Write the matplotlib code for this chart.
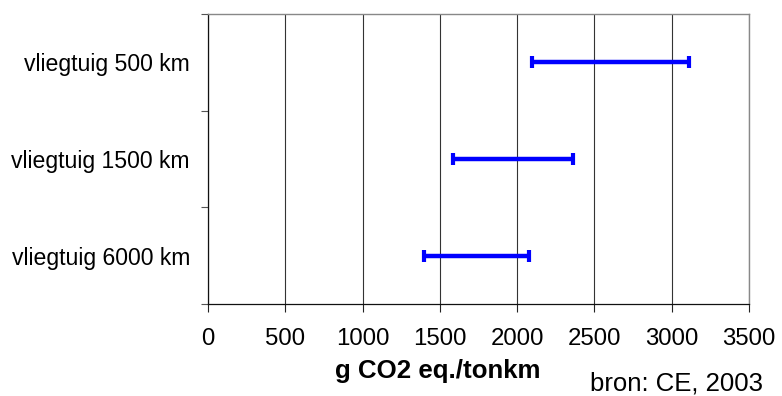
import matplotlib
matplotlib.use("Agg")
import matplotlib.pyplot as plt
import numpy as np

plt.rcParams['font.family'] = ['Liberation Sans', 'DejaVu Sans']

# Emission ranges for air freight (g CO2 eq. per tonne-km)
categories = ["vliegtuig 500 km", "vliegtuig 1500 km", "vliegtuig 6000 km"]
low_values = [2095, 1587, 1397]
high_values = [3115, 2363, 2079]
x_ticks = [0, 500, 1000, 1500, 2000, 2500, 3000, 3500]

W, H = 782, 396
fig = plt.figure(figsize=(W / 100, H / 100), dpi=100)
ax = fig.add_axes([208 / W, 1 - 304 / H, (749 - 208) / W, (304 - 14) / H])

n = len(categories)
ypos = np.arange(n)[::-1] + 0.5
low = np.array(low_values, dtype=float)
high = np.array(high_values, dtype=float)
mid = (low + high) / 2
half = (high - low) / 2

ax.errorbar(mid, ypos, xerr=half, fmt='none', ecolor='#0000FF',
            elinewidth=3.2, capsize=4.5, capthick=3.0, zorder=3)

ax.set_xlim(0, 3500)
ax.set_ylim(0, n)
ax.set_xticks(x_ticks)
ax.set_xticklabels([str(v) for v in x_ticks])
ax.set_yticks(np.arange(n + 1))
ax.set_yticklabels([])
ax.set_yticks(ypos, minor=True)
ax.set_yticklabels(categories, minor=True)

ax.grid(axis='x', color='#333333', linewidth=0.8, zorder=1)
ax.tick_params(axis='x', direction='out', length=5.8, width=0.8, color='#222222',
               labelsize=17.3, pad=11.5)
ax.tick_params(axis='y', which='major', direction='out', length=5.0, width=0.8,
               color='#555555')
ax.tick_params(axis='y', which='minor', length=0, labelsize=16.6, pad=13)

for side in ('left', 'bottom'):
    ax.spines[side].set_color('#111111')
    ax.spines[side].set_linewidth(0.9)
for side in ('top', 'right'):
    ax.spines[side].set_color('#888888')
    ax.spines[side].set_linewidth(1.0)

fig.text(438 / W, 1 - 378 / H, "g CO2 eq./tonkm", fontsize=18.6, fontweight='bold',
         ha='center', va='baseline')
fig.text(590 / W, 1 - 390 / H, "bron: CE, 2003", fontsize=18.5,
         ha='left', va='baseline')

fig.savefig("out.png", dpi=100)
